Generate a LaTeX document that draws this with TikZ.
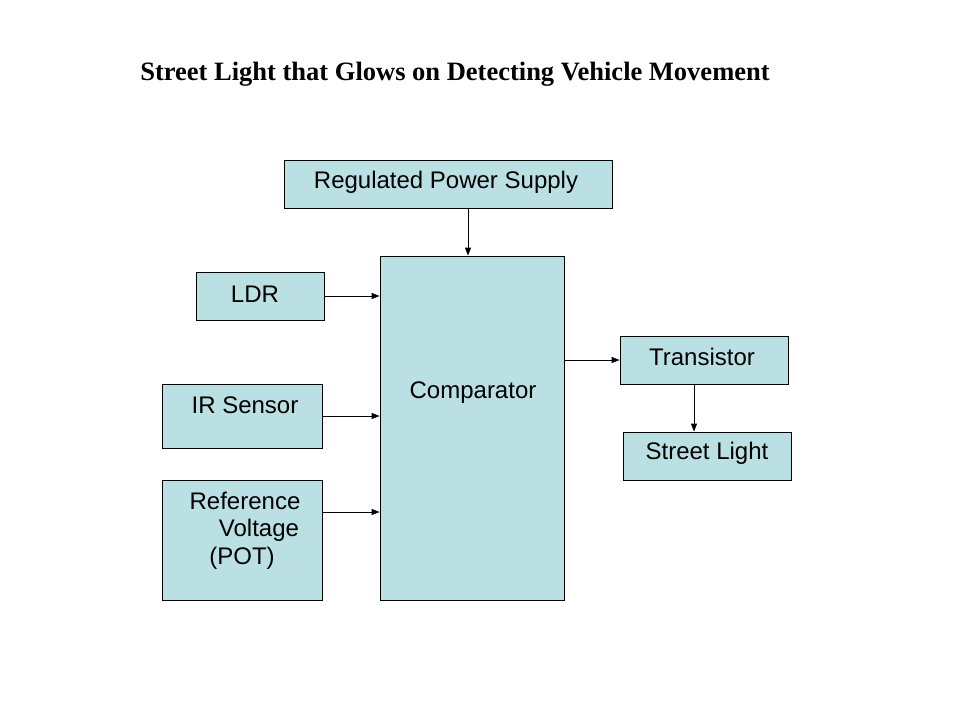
\documentclass[tikz,border=0pt]{standalone}
\usepackage{fontspec}
\setmainfont{Liberation Serif}
\newfontfamily\arialfont{Liberation Sans}
\usetikzlibrary{arrows.meta}
\definecolor{boxfill}{RGB}{187,224,227}
\tikzset{
  blk/.style={draw=black, fill=boxfill, line width=0.9pt, rectangle, inner sep=0pt},
  txt/.style={font=\arialfont\fontsize{24}{28}\selectfont, inner sep=0pt, anchor=center},
  conn/.style={line width=0.9pt, -{Triangle[length=8pt,width=6pt]}}
}
\begin{document}
\begin{tikzpicture}[x=1pt,y=-1pt]
\useasboundingbox (0,0) rectangle (960,720);
\fill[white] (0,0) rectangle (960,720);

\node[font=\bfseries\fontsize{26.5}{30}\selectfont, inner sep=0pt] (title) at (455,74) {Street Light that Glows on Detecting Vehicle Movement};

\node[blk, minimum width=328pt, minimum height=48pt] (rps) at (448,184) {};
\node[blk, minimum width=184pt, minimum height=344pt] (cmp) at (472,428) {};
\node[blk, minimum width=128pt, minimum height=48pt] (ldr) at (260,296) {};
\node[blk, minimum width=160pt, minimum height=64pt] (ir) at (242,416) {};
\node[blk, minimum width=160pt, minimum height=120pt] (ref) at (242,540) {};
\node[blk, minimum width=168pt, minimum height=48pt] (tr) at (704,360) {};
\node[blk, minimum width=168pt, minimum height=48pt] (sl) at (707,456) {};

\node[txt] (rpst) at (446,182) {Regulated Power Supply};
\node[txt] (cmpt) at (473,393) {Comparator};
\node[txt] (ldrt) at (255,294) {LDR};
\node[txt] (irt) at (245,405) {IR Sensor};
\node[txt] (reft1) at (245,501) {Reference};
\node[txt] (reft2) at (259,530) {Voltage};
\node[txt] (reft3) at (242,558) {(POT)};
\node[txt] (trt) at (702,357) {Transistor};
\node[txt] (slt) at (707,453) {Street Light};

\draw[conn] (rps.south -| 468,0) -- (cmp.north -| 468,0);
\draw[conn] (ldr.east |- 0,296) -- (cmp.west |- 0,296);
\draw[conn] (ir.east) -- (cmp.west |- ir.east);
\draw[conn] (ref.east |- 0,512) -- (cmp.west |- 0,512);
\draw[conn] (cmp.east |- tr.west) -- (tr.west);
\draw[conn] (tr.south -| 694,0) -- (sl.north -| 694,0);
\end{tikzpicture}
\end{document}
